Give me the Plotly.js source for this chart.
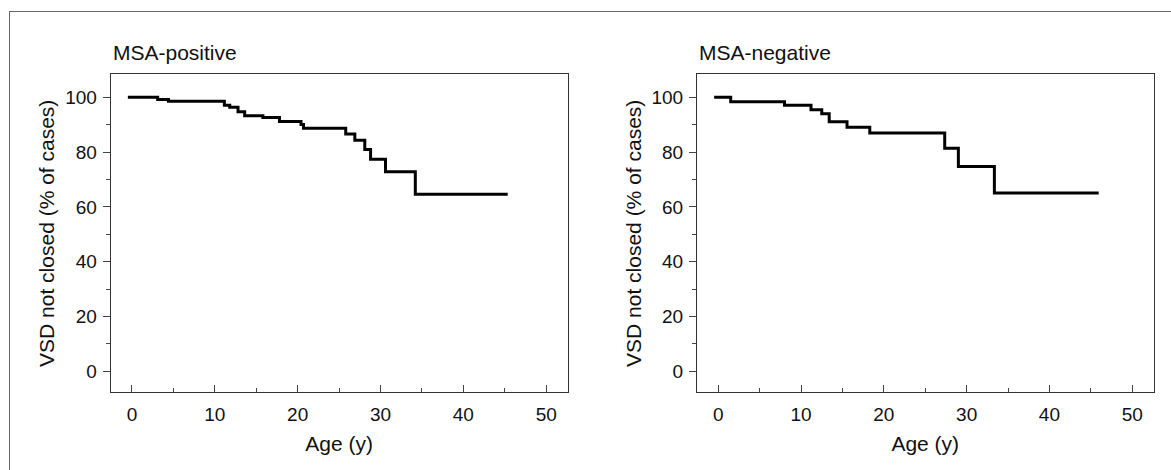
<!DOCTYPE html>
<html>
<head>
<meta charset="utf-8">
<script src="https://cdn.plot.ly/plotly-3.0.1.min.js"></script>
<style>
  html, body { margin: 0; padding: 0; background: #ffffff; }
  #wrap { position: relative; width: 1171px; height: 470px; overflow: hidden; }
  #chart { position: absolute; left: 0; top: 0; width: 1171px; height: 470px; }
  #frame { position: absolute; left: 9px; top: 11px; width: 1200px; height: 500px;
           border-left: 1px solid #666; border-top: 1px solid #666; pointer-events: none; }
</style>
</head>
<body>
<div id="wrap">
  <div id="chart"></div>
  <div id="frame"></div>
</div>
<script>
// ---- data (Kaplan-Meier style step curves) ----
const panelTitles = ["MSA-positive", "MSA-negative"];
const xTitle = "Age (y)";
const yTitle = "VSD not closed (% of cases)";

const posAge = [-0.5, 3.1, 4.4, 11.15, 11.8, 12.8, 13.6, 15.8, 17.8, 20.4, 20.7, 25.8, 26.9, 28.1, 28.8, 30.6, 34.2, 45.35];
const posPct = [100, 99.2, 98.6, 97.1, 96.4, 94.7, 93.3, 92.6, 91.2, 90.1, 88.7, 86.6, 84.3, 80.9, 77.4, 72.8, 64.6, 64.6];

const negAge = [-0.5, 1.5, 8.0, 11.2, 12.5, 13.4, 15.55, 18.3, 27.35, 29.0, 33.35, 45.95];
const negPct = [100, 98.4, 97.1, 95.5, 94.0, 91.1, 89.1, 87.0, 81.4, 74.7, 65.1, 65.1];

const xTickVals = [0, 10, 20, 30, 40, 50];
const yTickVals = [0, 20, 40, 60, 80, 100];

// ---- styling ----
const FONT = "Liberation Sans, Arial, Helvetica, sans-serif";
const W = 1171, H = 470;
const px = v => v / W;
const py = v => 1 - v / H;
const TICKFONT = { family: FONT, size: 19, color: "#111" };
const TITLEFONT = { family: FONT, size: 21, color: "#111" };

function xAxis(domain, anchor) {
  return {
    domain: domain, anchor: anchor,
    range: [-2.57, 52.57],
    tickmode: "array", tickvals: xTickVals,
    ticks: "inside", ticklen: 7, tickwidth: 1, tickcolor: "#444",
    minor: { dtick: 5, tick0: 0, ticks: "inside", ticklen: 4, tickwidth: 1, tickcolor: "#444" },
    showline: true, linecolor: "#333", linewidth: 1, mirror: true,
    showgrid: false, zeroline: false,
    tickfont: TICKFONT,
    ticklabelstandoff: 5,
    title: { text: xTitle, font: TITLEFONT, standoff: 12 },
    automargin: false, fixedrange: true
  };
}
function yAxis(anchor) {
  return {
    domain: [py(392.3), py(74.3)], anchor: anchor,
    range: [-7.7, 108.4],
    tickmode: "array", tickvals: yTickVals,
    ticks: "outside", ticklen: 7, tickwidth: 1, tickcolor: "#444",
    minor: { dtick: 10, tick0: 0, ticks: "outside", ticklen: 4, tickwidth: 1, tickcolor: "#444" },
    showline: true, linecolor: "#333", linewidth: 1, mirror: true,
    showgrid: false, zeroline: false,
    tickfont: TICKFONT,
    ticklabelstandoff: 2,
    title: { text: yTitle, font: TITLEFONT, standoff: 4 },
    automargin: false, fixedrange: true
  };
}

const traces = [
  { x: posAge, y: posPct, xaxis: "x", yaxis: "y", type: "scatter", mode: "lines",
    line: { shape: "hv", color: "#000", width: 3 }, hoverinfo: "skip", name: panelTitles[0] },
  { x: negAge, y: negPct, xaxis: "x2", yaxis: "y2", type: "scatter", mode: "lines",
    line: { shape: "hv", color: "#000", width: 3 }, hoverinfo: "skip", name: panelTitles[1] }
];

const layout = {
  width: W, height: H,
  margin: { l: 0, r: 0, t: 0, b: 0, pad: 0 },
  paper_bgcolor: "#ffffff", plot_bgcolor: "#ffffff",
  showlegend: false,
  font: { family: FONT, size: 19, color: "#111" },
  xaxis: xAxis([px(110.7), px(567.5)], "y"),
  yaxis: yAxis("x"),
  xaxis2: xAxis([px(697), px(1153.5)], "y2"),
  yaxis2: yAxis("x2"),
  annotations: [
    { text: panelTitles[0], xref: "paper", yref: "paper", x: px(111), y: py(52.7),
      xanchor: "left", yanchor: "middle", showarrow: false, font: TITLEFONT },
    { text: panelTitles[1], xref: "paper", yref: "paper", x: px(697), y: py(52.7),
      xanchor: "left", yanchor: "middle", showarrow: false, font: TITLEFONT }
  ]
};

Plotly.newPlot("chart", traces, layout, { displayModeBar: false, staticPlot: true });
</script>
</body>
</html>
